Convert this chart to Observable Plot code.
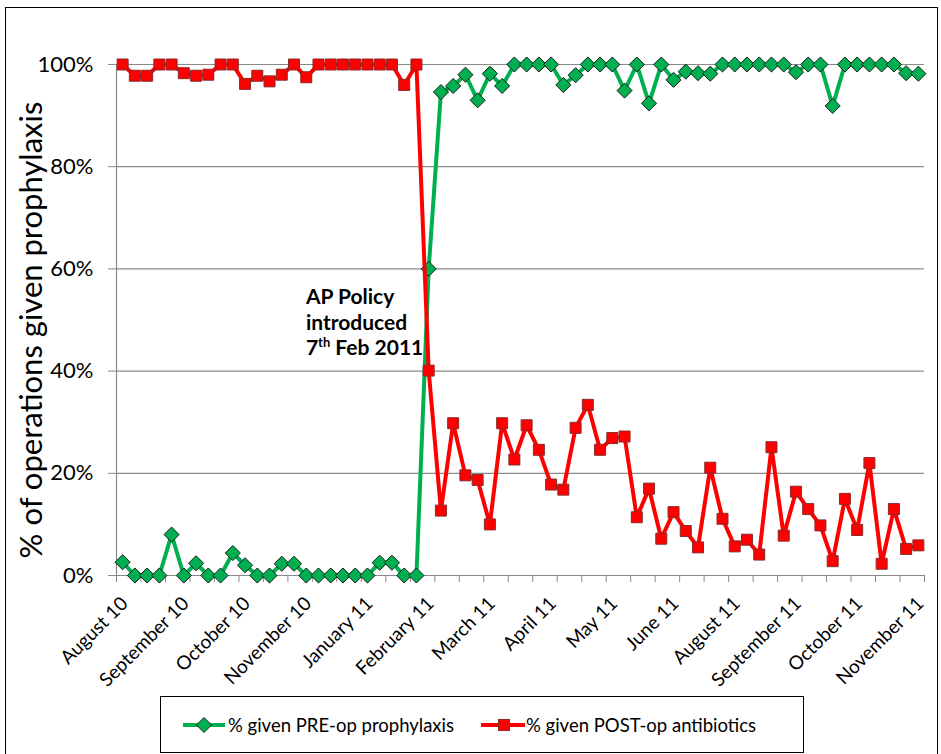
<!DOCTYPE html>
<html><head><meta charset="utf-8">
<script src="https://cdn.jsdelivr.net/npm/d3@7"></script>
<script src="https://cdn.jsdelivr.net/npm/@observablehq/plot@0.6"></script>
<style>
body{margin:0;background:#fff;font-family:Lato,sans-serif;}
#wrap{position:relative;width:941px;height:754px;overflow:hidden;background:#fff}
#frame{position:absolute;left:5px;top:7px;width:933px;height:800px;border:1.5px solid #000;box-sizing:border-box}
#chart{position:absolute;left:0;top:0}
#legend{position:absolute;left:160px;top:696px;width:644px;height:57px;border:1.5px solid #000;box-sizing:border-box;background:#fff;font-family:Lato,sans-serif;font-size:18.5px;color:#000}
#legend .item{position:absolute;top:0;height:100%;display:flex;align-items:center}
#legend svg{display:block}
</style></head><body>
<div id="wrap"><div id="frame"></div><div id="chart"></div><div id="legend"></div></div>
<script>
// x-axis labels (every 5th observation)
const months = ["August 10","September 10","October 10","November 10","January 11","February 11","March 11","April 11","May 11","June 11","August 11","September 11","October 11","November 11"];
// % given PRE-op prophylaxis
const preOp = [2.6,0,0,0,8.0,0,2.4,0,0,4.4,2.0,0,0,2.3,2.3,0,0,0,0,0,0,2.5,2.5,0,0,60,
  94.6,95.8,98.0,93.0,98.2,95.8,100,100,100,100,96.0,97.9,100,100,100,94.9,100,92.4,100,97.0,
  98.6,98.3,98.2,100,100,100,100,100,100,98.5,100,100,91.9,100,100,100,100,100,98.3,98.2];
// % given POST-op antibiotics
const postOp = [100,97.8,97.8,100,100,98.3,97.8,98.0,100,100,96.2,97.8,96.7,98.0,100,97.5,100,100,100,100,100,100,100,96.0,100,40.1,
  12.7,29.8,19.6,18.7,10.0,29.8,22.7,29.4,24.6,17.8,16.8,28.9,33.4,24.6,26.9,27.2,11.4,17.0,7.2,12.4,
  8.7,5.5,21.1,11.1,5.7,7.0,4.1,25.1,7.8,16.4,13.0,9.8,2.8,15.0,8.9,22.0,2.3,13.0,5.2,5.9];
const yTicks = [0,20,40,60,80,100];
const labelEvery = 5;
const tickEvery = 2;
const yTitle = "% of operations given prophylaxis";
const annotation = ["AP Policy","introduced","7th Feb 2011"];
const seriesNames = ["% given PRE-op prophylaxis","% given POST-op antibiotics"];

const n = preOp.length;
const tickPos = d3.range(-0.5, n, tickEvery);
const labelData = months.map((m, k) => ({i: k * labelEvery, m}));
const pre = preOp.map((v, i) => ({i, v}));
const post = postOp.map((v, i) => ({i, v}));
const gray = "#8a8a8a";
const green = "#00B050", red = "#FF0000";

const chart = Plot.plot({
  width: 941, height: 690,
  marginLeft: 116, marginRight: 17, marginTop: 64, marginBottom: 115,
  style: {fontFamily: "Lato, sans-serif", background: "transparent", overflow: "visible"},
  x: {domain: [-0.5, n - 0.5]},
  y: {domain: [0, 100]},
  marks: [
    Plot.gridY(yTicks, {stroke: gray, strokeOpacity: 1, strokeWidth: 1.2}),
    Plot.ruleX([-0.5], {stroke: gray, strokeWidth: 1.2}),
    Plot.ruleY([0], {stroke: gray, strokeWidth: 1.2}),
    Plot.axisY({ticks: yTicks, tickFormat: d => d + "%", tickSize: 8, tickPadding: 15, fontSize: 22, stroke: gray, fill: "#000", label: null}),
    Plot.axisX({ticks: tickPos, tickFormat: () => "", tickSize: 7, stroke: gray, label: null}),
    Plot.text(labelData, {x: "i", y: 0, text: "m", rotate: -45, textAnchor: "end", dx: 2, dy: 25, fontSize: 19, fill: "#000"}),
    Plot.text([yTitle], {frameAnchor: "left", textAnchor: "middle", dx: -84, dy: 10, rotate: -90, fontSize: 31, fill: "#000"}),
    Plot.line(pre, {x: "i", y: "v", stroke: green, strokeWidth: 4}),
    Plot.dot(pre, {x: "i", y: "v", symbol: "diamond2", r: 6.8, fill: green, stroke: "#1a1a1a", strokeWidth: 1}),
    Plot.line(post, {x: "i", y: "v", stroke: red, strokeWidth: 4}),
    Plot.dot(post, {x: "i", y: "v", symbol: "square", r: 6.2, fill: red, stroke: "#8a2a2a", strokeWidth: 1}),
    Plot.text([annotation.join("\n")], {x: 14.97, y: 49.7, textAnchor: "start", lineAnchor: "middle", lineHeight: 1.22, fontSize: 21, fontWeight: "bold", fill: "#000"})
  ]
});
document.getElementById("chart").appendChild(chart);

// superscript "th"
d3.select(chart).selectAll("tspan").each(function() {
  if (this.textContent === annotation[2]) {
    const t = d3.select(this);
    t.text("");
    t.append("tspan").text("7");
    t.append("tspan").attr("dy", "-8").attr("font-size", "13px").text("th");
    t.append("tspan").attr("dy", "8").text(" Feb 2011");
  }
});

// legend
const lg = document.getElementById("legend");
function item(left, color, shape, label) {
  const div = document.createElement("div");
  div.className = "item";
  div.style.left = left + "px";
  const marker = shape === "diamond"
    ? `<path d="M21,-7.5 L28.5,0 L21,7.5 L13.5,0 Z" transform="translate(0,9)" fill="${color}" stroke="#1a1a1a" stroke-width="1"/>`
    : `<rect x="17.5" y="3.5" width="11" height="11" fill="${color}" stroke="#8a2a2a" stroke-width="1"/>`;
  div.innerHTML = `<svg width="44" height="18"><line x1="0" x2="${shape==='diamond'?42:46}" y1="9" y2="9" stroke="${color}" stroke-width="4"/>${marker}</svg><span style="margin-left:1px">${label}</span>`;
  lg.appendChild(div);
}
item(22, green, "diamond", seriesNames[0]);
item(320, red, "square", seriesNames[1]);
</script>
</body></html>
